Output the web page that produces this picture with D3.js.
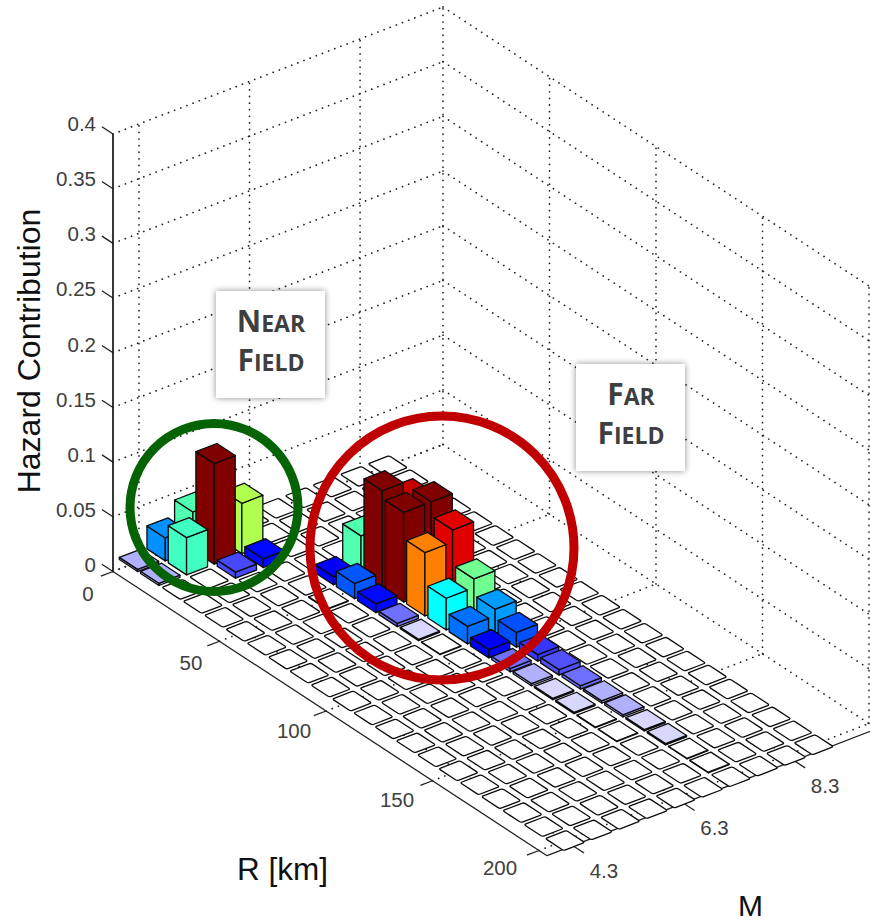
<!DOCTYPE html>
<html>
<head>
<meta charset="utf-8">
<script src="https://cdnjs.cloudflare.com/ajax/libs/d3/7.8.5/d3.min.js"></script>
<style>
html,body{margin:0;padding:0;background:#fff;overflow:hidden}
svg{display:block}
.tick{font-family:"Liberation Sans",Arial,sans-serif;font-size:20.5px;fill:#404040}
.title{font-family:"Liberation Sans",Arial,sans-serif;fill:#111}
.note{font-family:"Open Sans",sans-serif;font-weight:700;fill:#3f3f3f;text-anchor:middle}
</style>
</head>
<body>
<script>
// Bin centres of the histogram
const rBins = d3.range(0, 201, 10);
const mBins = [4.3, 4.8, 5.3, 5.8, 6.3, 6.8, 7.3, 7.8, 8.3, 8.8];
// Non-zero hazard contributions
const barR = [0, 10, 0, 10, 0, 10, 10, 20, 20,
  40, 50, 60, 70, 80, 50, 40, 50, 60, 50, 60, 70, 70, 80, 80, 90, 90, 100, 100, 110, 110, 120, 120, 130, 140, 150, 160, 170, 130, 140, 50, 90, 150, 160, 180, 190];
const barM = [4.3, 4.3, 4.8, 4.8, 5.3, 5.3, 5.8, 5.3, 5.8,
  6.3, 6.3, 6.3, 6.3, 6.3, 5.8, 6.8, 6.8, 6.8, 7.3, 7.3, 7.3, 6.8, 6.8, 7.3, 6.8, 7.3, 6.8, 7.3, 6.8, 7.3, 6.8, 7.3, 7.3, 7.3, 7.3, 7.3, 7.3, 6.8, 6.8, 5.8, 6.3, 6.8, 6.8, 7.3, 7.3];
const barH = [0.002, 0.002, 0.021, 0.034, 0.035, 0.092, 0.046, 0.0055, 0.008,
  0.0075, 0.014, 0.008, 0.003, 0.0012, 0.0012, 0.035, 0.089, 0.082, 0.072, 0.082, 0.069, 0.058, 0.029, 0.037, 0.016, 0.022, 0.0075, 0.0135, 0.003, 0.006, 0.002, 0.005, 0.003, 0.002, 0.002, 0.0012, 0.0012, 0.0012, 0.0012, 0.0005, 0.0005, 0.0005, 0.0005, 0.0005, 0.0005];
const zTicks = [0, 0.05, 0.1, 0.15, 0.2, 0.25, 0.3, 0.35, 0.4];
const rTicks = [0, 50, 100, 150, 200];
const mTicks = [4.3, 6.3, 8.3];
const zLabel = "Hazard Contribution", rLabel = "R [km]", mLabel = "M";
const notes = [["Near", "Field"], ["Far", "Field"]];

const W = 870, H = 923, X0 = 113, Y0 = 571.5;
const rMax = 203.75, mMin = 3.83, mMax = 9.8, zMax = 0.4;
const rx = d3.scaleLinear([0, 200], [0, 426]);
const ry = d3.scaleLinear([0, 200], [0, 279]);
const mx = d3.scaleLinear([mMin, mMax], [0, 330]);
const my = d3.scaleLinear([mMin, mMax], [0, -127]);
const zy = d3.scaleLinear([0, zMax], [0, -437.5]);
const P = (r, m, z) => [X0 + rx(r) + mx(m), Y0 + ry(r) + my(m) + zy(z)];
const line = d3.line();

const colour = d3.scaleLinear()
  .domain([0, 0.0005, 0.0012, 0.002, 0.003, 0.0055, 0.0075, 0.0135, 0.016, 0.021, 0.024, 0.029, 0.034, 0.037, 0.046, 0.058, 0.069, 0.072, 0.082, 0.1])
  .range(["#ffffff", "#ffffff", "#d8d8ff", "#b0b0ff", "#7070ff", "#4848ff", "#0000ff", "#0050ff", "#0070ff", "#0090ff", "#00b0ff", "#00ffff", "#40ffc0", "#70ff90", "#b0ff50", "#ff8000", "#e00000", "#c80000", "#800000", "#800000"])
  .clamp(true);

const svg = d3.select("body").append("svg").attr("width", W).attr("height", H).attr("viewBox", `0 0 ${W} ${H}`);
const defs = svg.append("defs");
const f = defs.append("filter").attr("id", "sh").attr("x", "-20%").attr("y", "-20%").attr("width", "140%").attr("height", "140%");
f.append("feDropShadow").attr("dx", 0).attr("dy", 0).attr("stdDeviation", 3).attr("flood-color", "#000").attr("flood-opacity", 0.45);

// Dotted grid
const grid = svg.append("g").attr("fill", "none").attr("stroke", "#222").attr("stroke-width", 1.7)
  .attr("stroke-dasharray", "0.1 6.5").attr("stroke-linecap", "round");
const seg = (a, b) => grid.append("path").attr("d", line([a, b]));
zTicks.forEach(z => {
  seg(P(0, mMin, z), P(0, mMax, z));
  seg(P(0, mMax, z), P(200, mMax, z));
});
mTicks.forEach(m => {
  seg(P(0, m, 0), P(0, m, zMax));
  seg(P(0, m, 0), P(rMax, m, 0));
});
rTicks.forEach(r => {
  seg(P(r, mMax, 0), P(r, mMax, zMax));
  seg(P(r, mMin, 0), P(r, mMax, 0));
});

// Axes
const axes = svg.append("g").attr("fill", "none").attr("stroke", "#222").attr("stroke-width", 1.3);
const ax = (a, b, w) => axes.append("path").attr("d", line([a, b])).attr("stroke-width", w || 1.3);
ax(P(0, mMin, 0), P(0, mMin, zMax), 1.8);
ax(P(0, mMin, 0), P(rMax, mMin, 0));
ax(P(rMax, mMin, 0), P(rMax, mMax, 0));
zTicks.forEach(z => ax(P(0, mMin, z), P(-5.2, mMin, z)));
rTicks.forEach(r => ax(P(r, mMin, 0), P(r, mMin - 0.22, 0)));
mTicks.forEach(m => ax(P(rMax, m, 0), P(rMax + 5.2, m, 0)));

// Bars, painted from the back of the view to the front
const value = new Map(barR.map((r, k) => [r + "|" + barM[k], barH[k]]));
const cells = [];
rBins.forEach((r, i) => mBins.forEach((m, j) => cells.push({ r, m, i, j, h: value.get(r + "|" + m) || 0 })));
cells.sort((a, b) => (a.i - a.j) - (b.i - b.j) || a.i - b.i);
const hr = 4.3, hm = 0.19;
const barsG = svg.append("g").attr("stroke", "#0c0c0c").attr("stroke-width", 1.3).attr("stroke-linejoin", "round");
const face = (pts, fill) => barsG.append("path").attr("d", line(pts) + "Z").attr("fill", fill);
// Empty bins render with softened corners
const softFace = pts => {
  const n = pts.length, k = 0.09;
  const mix = (a, b, t) => [a[0] + (b[0] - a[0]) * t, a[1] + (b[1] - a[1]) * t];
  const path = d3.path();
  pts.forEach((p, i) => {
    const prev = pts[(i + n - 1) % n], next = pts[(i + 1) % n];
    const a = mix(p, prev, k), b = mix(p, next, k);
    if (i === 0) path.moveTo(a[0], a[1]); else path.lineTo(a[0], a[1]);
    path.quadraticCurveTo(p[0], p[1], b[0], b[1]);
  });
  path.closePath();
  barsG.append("path").attr("d", path.toString()).attr("fill", "#fff");
};
cells.forEach(c => {
  const r0 = c.r - hr, r1 = c.r + hr, m0 = c.m - hm, m1 = c.m + hm, col = colour(c.h);
  const top = [P(r0, m0, c.h), P(r1, m0, c.h), P(r1, m1, c.h), P(r0, m1, c.h)];
  if (c.h === 0) { softFace(top); return; }
  face([P(r0, m0, 0), P(r1, m0, 0), P(r1, m0, c.h), P(r0, m0, c.h)], col);
  face([P(r1, m0, 0), P(r1, m1, 0), P(r1, m1, c.h), P(r1, m0, c.h)], col);
  face(top, col);
});

// Tick labels
const labels = svg.append("g");
const zBase = d3.scaleLinear([0, zMax], [572, 131]);
zTicks.forEach(z => labels.append("text").attr("class", "tick").attr("x", 96).attr("y", zBase(z))
  .attr("text-anchor", "end").text(z));
const rLabX = d3.scaleLinear([0, 200], [88, 500]);
const rLabY = d3.scaleLinear([0, 200], [601, 875]);
rTicks.forEach(r => labels.append("text").attr("class", "tick").attr("x", rLabX(r)).attr("y", rLabY(r)).attr("text-anchor", "middle").text(r));
mTicks.forEach(m => {
  const p = P(rMax, m, 0);
  labels.append("text").attr("class", "tick").attr("x", p[0] + 31).attr("y", p[1] + 32).attr("text-anchor", "middle").text(m);
});

// Axis titles
svg.append("text").attr("class", "title").attr("font-size", 32).attr("text-anchor", "middle")
  .attr("transform", "translate(40,351) rotate(-90)").text(zLabel);
svg.append("text").attr("class", "title").attr("font-size", 31.5).attr("x", 237).attr("y", 880).text(rLabel);
svg.append("text").attr("class", "title").attr("font-size", 30).attr("x", 738).attr("y", 916).text(mLabel);

// Near / far annotation boxes
[[216, 291, 271, 332], [576, 364, 631, 405]].forEach((b, k) => {
  svg.append("rect").attr("x", b[0]).attr("y", b[1]).attr("width", 109).attr("height", 107).attr("fill", "#fff").attr("filter", "url(#sh)");
  notes[k].forEach((t, n) => {
    const tx = svg.append("text").attr("class", "note").attr("x", b[2]).attr("y", b[3] + n * 39);
    tx.append("tspan").attr("font-size", 30).text(t[0]);
    tx.append("tspan").attr("font-size", 33).style("font-variant", "small-caps").text(t.slice(1));
  });
});

// Rings
svg.append("circle").attr("cx", 214).attr("cy", 507.5).attr("r", 84).attr("fill", "none").attr("stroke", "#056305").attr("stroke-width", 9);
svg.append("circle").attr("cx", 442).attr("cy", 548).attr("r", 132).attr("fill", "none").attr("stroke", "#c00000").attr("stroke-width", 9);
</script>
</body>
</html>
